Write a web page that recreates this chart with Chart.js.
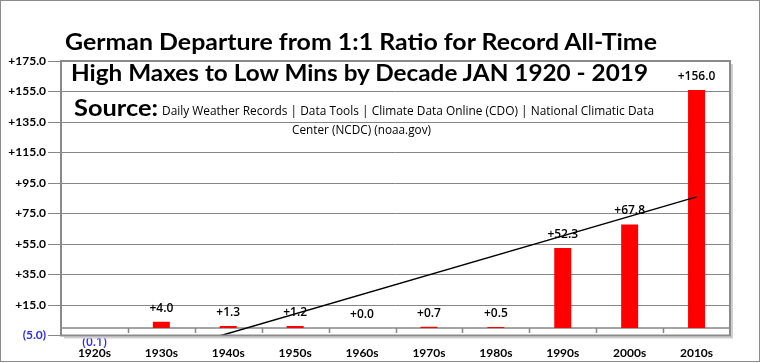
<!DOCTYPE html>
<html>
<head>
<meta charset="utf-8">
<script src="https://cdn.jsdelivr.net/npm/chart.js@4.4.1/dist/chart.umd.min.js"></script>
<style>
  html, body { margin: 0; padding: 0; background: #fff; }
  #wrap { position: relative; width: 765px; height: 363px; overflow: hidden; }
  canvas { position: absolute; left: 0; top: 0; }
  .t { position: absolute; white-space: nowrap; font-family: Lato, "Open Sans", sans-serif; color: #000; line-height: 1.2; transform-origin: 0 0; }
  .s { font-family: "Open Sans", Lato, sans-serif; }
</style>
</head>
<body>
<div id="wrap">
  <canvas id="c" width="765" height="363"></canvas>
  <div class="t" data-w="592" style="left:65px; top:29px; font-size:22px; font-weight:bold;">German Departure from 1:1 Ratio for Record All-Time</div>
  <div class="t" data-w="577" style="left:70.5px; top:60px; font-size:22px; font-weight:bold;">High Maxes to Low Mins by Decade JAN 1920 - 2019</div>
  <div class="t" data-w="84" style="left:74px; top:94px; font-size:23px; font-weight:bold;">Source:</div>
  <div class="t s" data-w="492" style="left:162px; top:103.5px; font-size:12px;">Daily Weather Records | Data Tools | Climate Data Online (CDO) | National Climatic Data</div>
  <div class="t s" data-w="139" style="left:292px; top:122.8px; font-size:12px;">Center (NCDC) (noaa.gov)</div>
</div>
<script>
// ---- data ----
const decades = ["1920s", "1930s", "1940s", "1950s", "1960s", "1970s", "1980s", "1990s", "2000s", "2010s"];
const departures = [-0.1, 4.0, 1.3, 1.2, 0.0, 0.7, 0.5, 52.3, 67.8, 156.0];
// linear trend line: values read at the first and last decade
const trendValues = [-29.2, null, null, null, null, null, null, null, null, 85.9];
const yTickValues = [-5, 15, 35, 55, 75, 95, 115, 135, 155, 175];

// fit title lines to their widths
document.querySelectorAll('.t').forEach(el => {
  const w = el.getBoundingClientRect().width;
  const target = parseFloat(el.dataset.w);
  if (w > 0) el.style.transform = 'scaleX(' + (target / w) + ')';
});

const GRID = '#868686';
const BLUE = '#2f2fe6';
const FONT = 'Lato, "Open Sans", sans-serif';
const LABEL_FONT = '"Open Sans", Lato, sans-serif';

function fmt(v) {
  return v < 0 ? '(' + Math.abs(v).toFixed(1) + ')' : '+' + v.toFixed(1);
}

const framePlugin = {
  id: 'frame',
  beforeDraw(chart) {
    const ctx = chart.ctx;
    ctx.save();
    ctx.fillStyle = '#fff';
    ctx.fillRect(0, 0, chart.width, chart.height);
    ctx.strokeStyle = '#8c8c8c';
    ctx.lineWidth = 1;
    ctx.strokeRect(0.5, 0.5, 759, 361);
    ctx.restore();
  },
  beforeDatasetsDraw(chart) {
    const ctx = chart.ctx;
    const a = chart.chartArea;
    const y = chart.scales.y;
    const y0 = y.getPixelForValue(0);
    ctx.save();
    ctx.strokeStyle = GRID;
    ctx.lineWidth = 1.5;
    ctx.beginPath();
    ctx.moveTo(a.left, y0);
    ctx.lineTo(a.right, y0);
    const n = decades.length;
    const step = (a.right - a.left) / n;
    for (let i = 1; i < n; i++) {
      const px = Math.round(a.left + i * step) + 0.5;
      ctx.moveTo(px, y0);
      ctx.lineTo(px, y0 + 5);
    }
    ctx.stroke();
    ctx.restore();
  },
  afterDatasetsDraw(chart) {
    const ctx = chart.ctx;
    const a = chart.chartArea;
    const y0 = chart.scales.y.getPixelForValue(0);
    const meta = chart.getDatasetMeta(0);
    ctx.save();
    ctx.font = '600 12px ' + LABEL_FONT;
    ctx.textAlign = 'center';
    ctx.textBaseline = 'alphabetic';
    meta.data.forEach((bar, i) => {
      const v = departures[i];
      if (v < 0) {
        ctx.fillStyle = BLUE;
        ctx.fillText(fmt(v), bar.x, y0 + 18.5);
      } else {
        ctx.fillStyle = '#000';
        ctx.fillText(fmt(v), bar.x, bar.y - 10);
      }
    });
    // plot frame with shadow
    ctx.strokeStyle = '#cfcfcf';
    ctx.lineWidth = 2;
    ctx.beginPath();
    ctx.moveTo(a.right + 2, a.top + 3);
    ctx.lineTo(a.right + 2, a.bottom + 2);
    ctx.lineTo(a.left + 3, a.bottom + 2);
    ctx.stroke();
    ctx.strokeStyle = '#8a8a8a';
    ctx.lineWidth = 2;
    ctx.strokeRect(a.left, a.top, a.right - a.left, a.bottom - a.top);
    ctx.restore();
  }
};

new Chart(document.getElementById('c'), {
  data: {
    labels: decades,
    datasets: [
      {
        type: 'bar',
        data: departures,
        backgroundColor: '#ff0000',
        borderWidth: 0,
        barPercentage: 0.254,
        categoryPercentage: 1.0,
        order: 2
      },
      {
        type: 'line',
        data: trendValues,
        borderColor: '#000',
        borderWidth: 1.5,
        pointRadius: 0,
        spanGaps: true,
        fill: false,
        tension: 0,
        order: 1
      }
    ]
  },
  options: {
    responsive: false,
    devicePixelRatio: 1,
    animation: false,
    layout: { padding: { top: 61, right: 35, left: 0, bottom: 0 } },
    plugins: { legend: { display: false }, tooltip: { enabled: false }, title: { display: false } },
    scales: {
      x: {
        type: 'category',
        offset: true,
        grid: { display: false },
        border: { display: false },
        ticks: {
          autoSkip: false, maxRotation: 0, minRotation: 0,
          padding: 2,
          color: '#000',
          font: { family: FONT, size: 12, weight: 'bold' }
        },
        afterFit(scale) { scale.height = 27.5; }
      },
      y: {
        type: 'linear',
        min: -5,
        max: 175,
        afterBuildTicks(scale) { scale.ticks = yTickValues.map(v => ({ value: v })); },
        grid: { color: GRID, lineWidth: 1, tickLength: 13, drawTicks: true },
        border: { display: false },
        ticks: {
          padding: 2,
          color: (c) => (c.tick && c.tick.value < 0 ? BLUE : '#000'),
          font: { family: FONT, size: 12, weight: 'bold' },
          callback: (v) => fmt(v)
        },
        afterFit(scale) { scale.width = 61; }
      }
    }
  },
  plugins: [framePlugin]
});
</script>
</body>
</html>
